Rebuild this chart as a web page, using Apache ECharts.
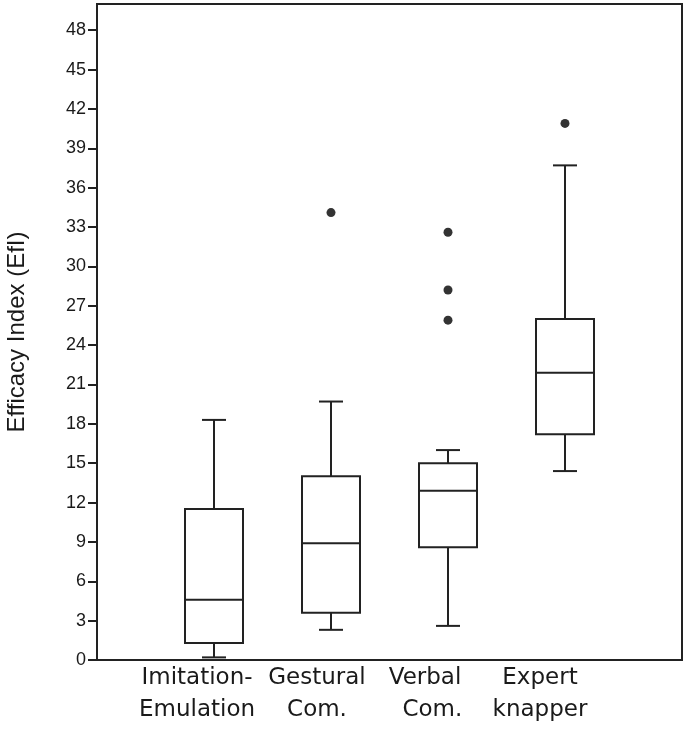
<!DOCTYPE html>
<html>
<head>
<meta charset="utf-8">
<script src="https://cdn.jsdelivr.net/npm/echarts@6/dist/echarts.min.js"></script>
<style>
html,body{margin:0;padding:0;background:#fff;}
#chart{width:685px;height:730px;}
</style>
</head>
<body>
<div id="chart"></div>
<script>
var categories = ['Imitation-\nEmulation', 'Gestural\nCom.', 'Verbal\n  Com.', 'Expert\nknapper'];
var whiskerLow  = [0.2, 2.3, 2.6, 14.4];
var quart1      = [1.3, 3.6, 8.6, 17.2];
var medians     = [4.6, 8.9, 12.9, 21.9];
var quart3      = [11.5, 14.0, 15.0, 26.0];
var whiskerHigh = [18.3, 19.7, 16.0, 37.7];
var outlierGroup = [1, 2, 2, 2, 3];
var outlierValue = [34.1, 32.6, 28.2, 25.9, 40.9];
var yTicks = [0, 3, 6, 9, 12, 15, 18, 21, 24, 27, 30, 33, 36, 39, 42, 45, 48];

var labelShift = [34, 28, 46, 50];
var axisCats = [''].concat(categories.map(function (c, i) {
  return { value: c, textStyle: { padding: [0, labelShift[i], 0, 0] } };
})).concat(['']);
var boxData = categories.map(function (c, i) {
  return [i + 1, whiskerLow[i], quart1[i], medians[i], quart3[i], whiskerHigh[i]];
});
var outData = outlierValue.map(function (v, i) { return [outlierGroup[i] + 1, v]; });

var ink = '#222';
var chart = echarts.init(document.getElementById('chart'));
chart.setOption({
  animation: false,
  backgroundColor: '#fff',
  grid: { left: 97, right: 3, top: 4, bottom: 70, show: true, borderColor: ink, borderWidth: 2,
          containLabel: false, outerBoundsMode: 'none' },
  xAxis: {
    type: 'category',
    data: axisCats,
    boundaryGap: false,
    axisLine: { lineStyle: { color: ink, width: 2 } },
    axisTick: { show: false },
    splitLine: { show: false },
    axisLabel: {
      interval: 0, margin: 2, color: '#1a1a1a',
      fontFamily: 'DejaVu Sans', fontSize: 23, lineHeight: 32
    }
  },
  yAxis: {
    type: 'value', min: 0, max: 50, interval: 3,
    name: 'Efficacy Index (EfI)',
    nameLocation: 'middle', nameGap: 68,
    nameTextStyle: { fontFamily: 'Liberation Sans', fontSize: 24, color: '#1a1a1a' },
    axisLine: { show: true, lineStyle: { color: ink, width: 2 } },
    axisTick: { show: true, length: 9, lineStyle: { color: ink, width: 2 }, customValues: yTicks },
    axisLabel: { margin: 11, color: '#1a1a1a', fontFamily: 'Liberation Sans', fontSize: 18, customValues: yTicks },
    splitLine: { show: false }
  },
  series: [
    {
      type: 'custom',
      data: boxData,
      encode: { x: 0, y: [1, 2, 3, 4, 5] },
      renderItem: function (params, api) {
        var x = api.value(0);
        var lo = api.coord([x, api.value(1)]);
        var q1 = api.coord([x, api.value(2)]);
        var md = api.coord([x, api.value(3)]);
        var q3 = api.coord([x, api.value(4)]);
        var hi = api.coord([x, api.value(5)]);
        var cx = lo[0], hw = 29, cw = 12;
        var st = { stroke: ink, lineWidth: 2, fill: null };
        return {
          type: 'group',
          children: [
            { type: 'line', shape: { x1: cx, y1: lo[1], x2: cx, y2: q1[1] }, style: st },
            { type: 'line', shape: { x1: cx - cw, y1: lo[1], x2: cx + cw, y2: lo[1] }, style: st },
            { type: 'line', shape: { x1: cx, y1: q3[1], x2: cx, y2: hi[1] }, style: st },
            { type: 'line', shape: { x1: cx - cw, y1: hi[1], x2: cx + cw, y2: hi[1] }, style: st },
            { type: 'rect', shape: { x: cx - hw, y: q3[1], width: 2 * hw, height: q1[1] - q3[1] }, style: { stroke: ink, lineWidth: 2, fill: '#fff' } },
            { type: 'line', shape: { x1: cx - hw, y1: md[1], x2: cx + hw, y2: md[1] }, style: st }
          ]
        };
      }
    },
    {
      type: 'scatter',
      data: outData,
      symbol: 'circle',
      symbolSize: 9,
      itemStyle: { color: '#000' }
    }
  ]
});
</script>
</body>
</html>
